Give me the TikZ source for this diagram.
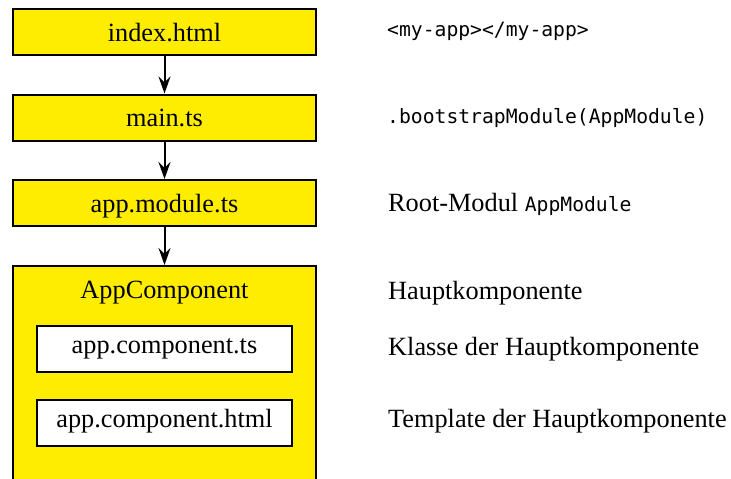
\documentclass[tikz,border=0pt]{standalone}
\usepackage{fontspec}
\setmainfont{Liberation Serif}
\newfontfamily\codefont{DejaVu Sans Mono}
\usetikzlibrary{arrows.meta}
\definecolor{boxyellow}{RGB}{255,237,0}
\newcommand{\lbl}{\fontsize{26.3}{30}\selectfont}
\newcommand{\code}[1]{{\codefont\fontsize{19.7}{24}\selectfont #1}}
\tikzset{
  filebox/.style={draw=black, line width=2pt, fill=boxyellow, inner sep=0pt,
    minimum width=303pt, minimum height=46pt, font=\lbl,
    text height=18pt, text depth=0pt},
  innerbox/.style={draw=black, line width=2pt, fill=white, inner sep=0pt,
    minimum width=255pt, minimum height=46pt, font=\lbl,
    text height=8pt, text depth=0pt},
  note/.style={anchor=base west, inner sep=0pt, font=\lbl},
  flow/.style={line width=2pt, -{Stealth[length=17pt,width=12pt,inset=6pt]}}
}
\begin{document}
\begin{tikzpicture}[x=1pt,y=-1pt]
  \useasboundingbox (0,0) rectangle (731,479);

  % loading chain
  \node[filebox] (index) at (164.5,32) {index.html};
  \node[filebox] (main) at (164.5,117.5) {main.ts};
  \node[filebox] (module) at (164.5,203) {app.module.ts};

  % root component container, running off the lower edge
  \node[filebox, minimum height=240pt, text height=0pt] (appcomp) at (164.5,386) {};
  \node[anchor=base, inner sep=0pt, font=\lbl] (appcomptitle) at (164.5,298) {AppComponent};
  \node[innerbox] (compts) at (164.5,349) {app.component.ts};
  \node[innerbox] (comphtml) at (164.5,423) {app.component.html};

  % arrows between the stages
  \draw[flow] (index) -- (main);
  \draw[flow] (main) -- (module);
  \draw[flow] (module) -- (appcomp);

  % explanations on the right
  \node[note] (n1) at (387,36) {\code{<my-app></my-app>}};
  \node[note] (n2) at (387,123) {\code{.bootstrapModule(AppModule)}};
  \node[note] (n3) at (388,211) {Root-Modul \code{AppModule}};
  \node[note] (n4) at (388,299) {Hauptkomponente};
  \node[note] (n5) at (388,355) {Klasse der Hauptkomponente};
  \node[note] (n6) at (388,427) {Template der Hauptkomponente};
\end{tikzpicture}
\end{document}
